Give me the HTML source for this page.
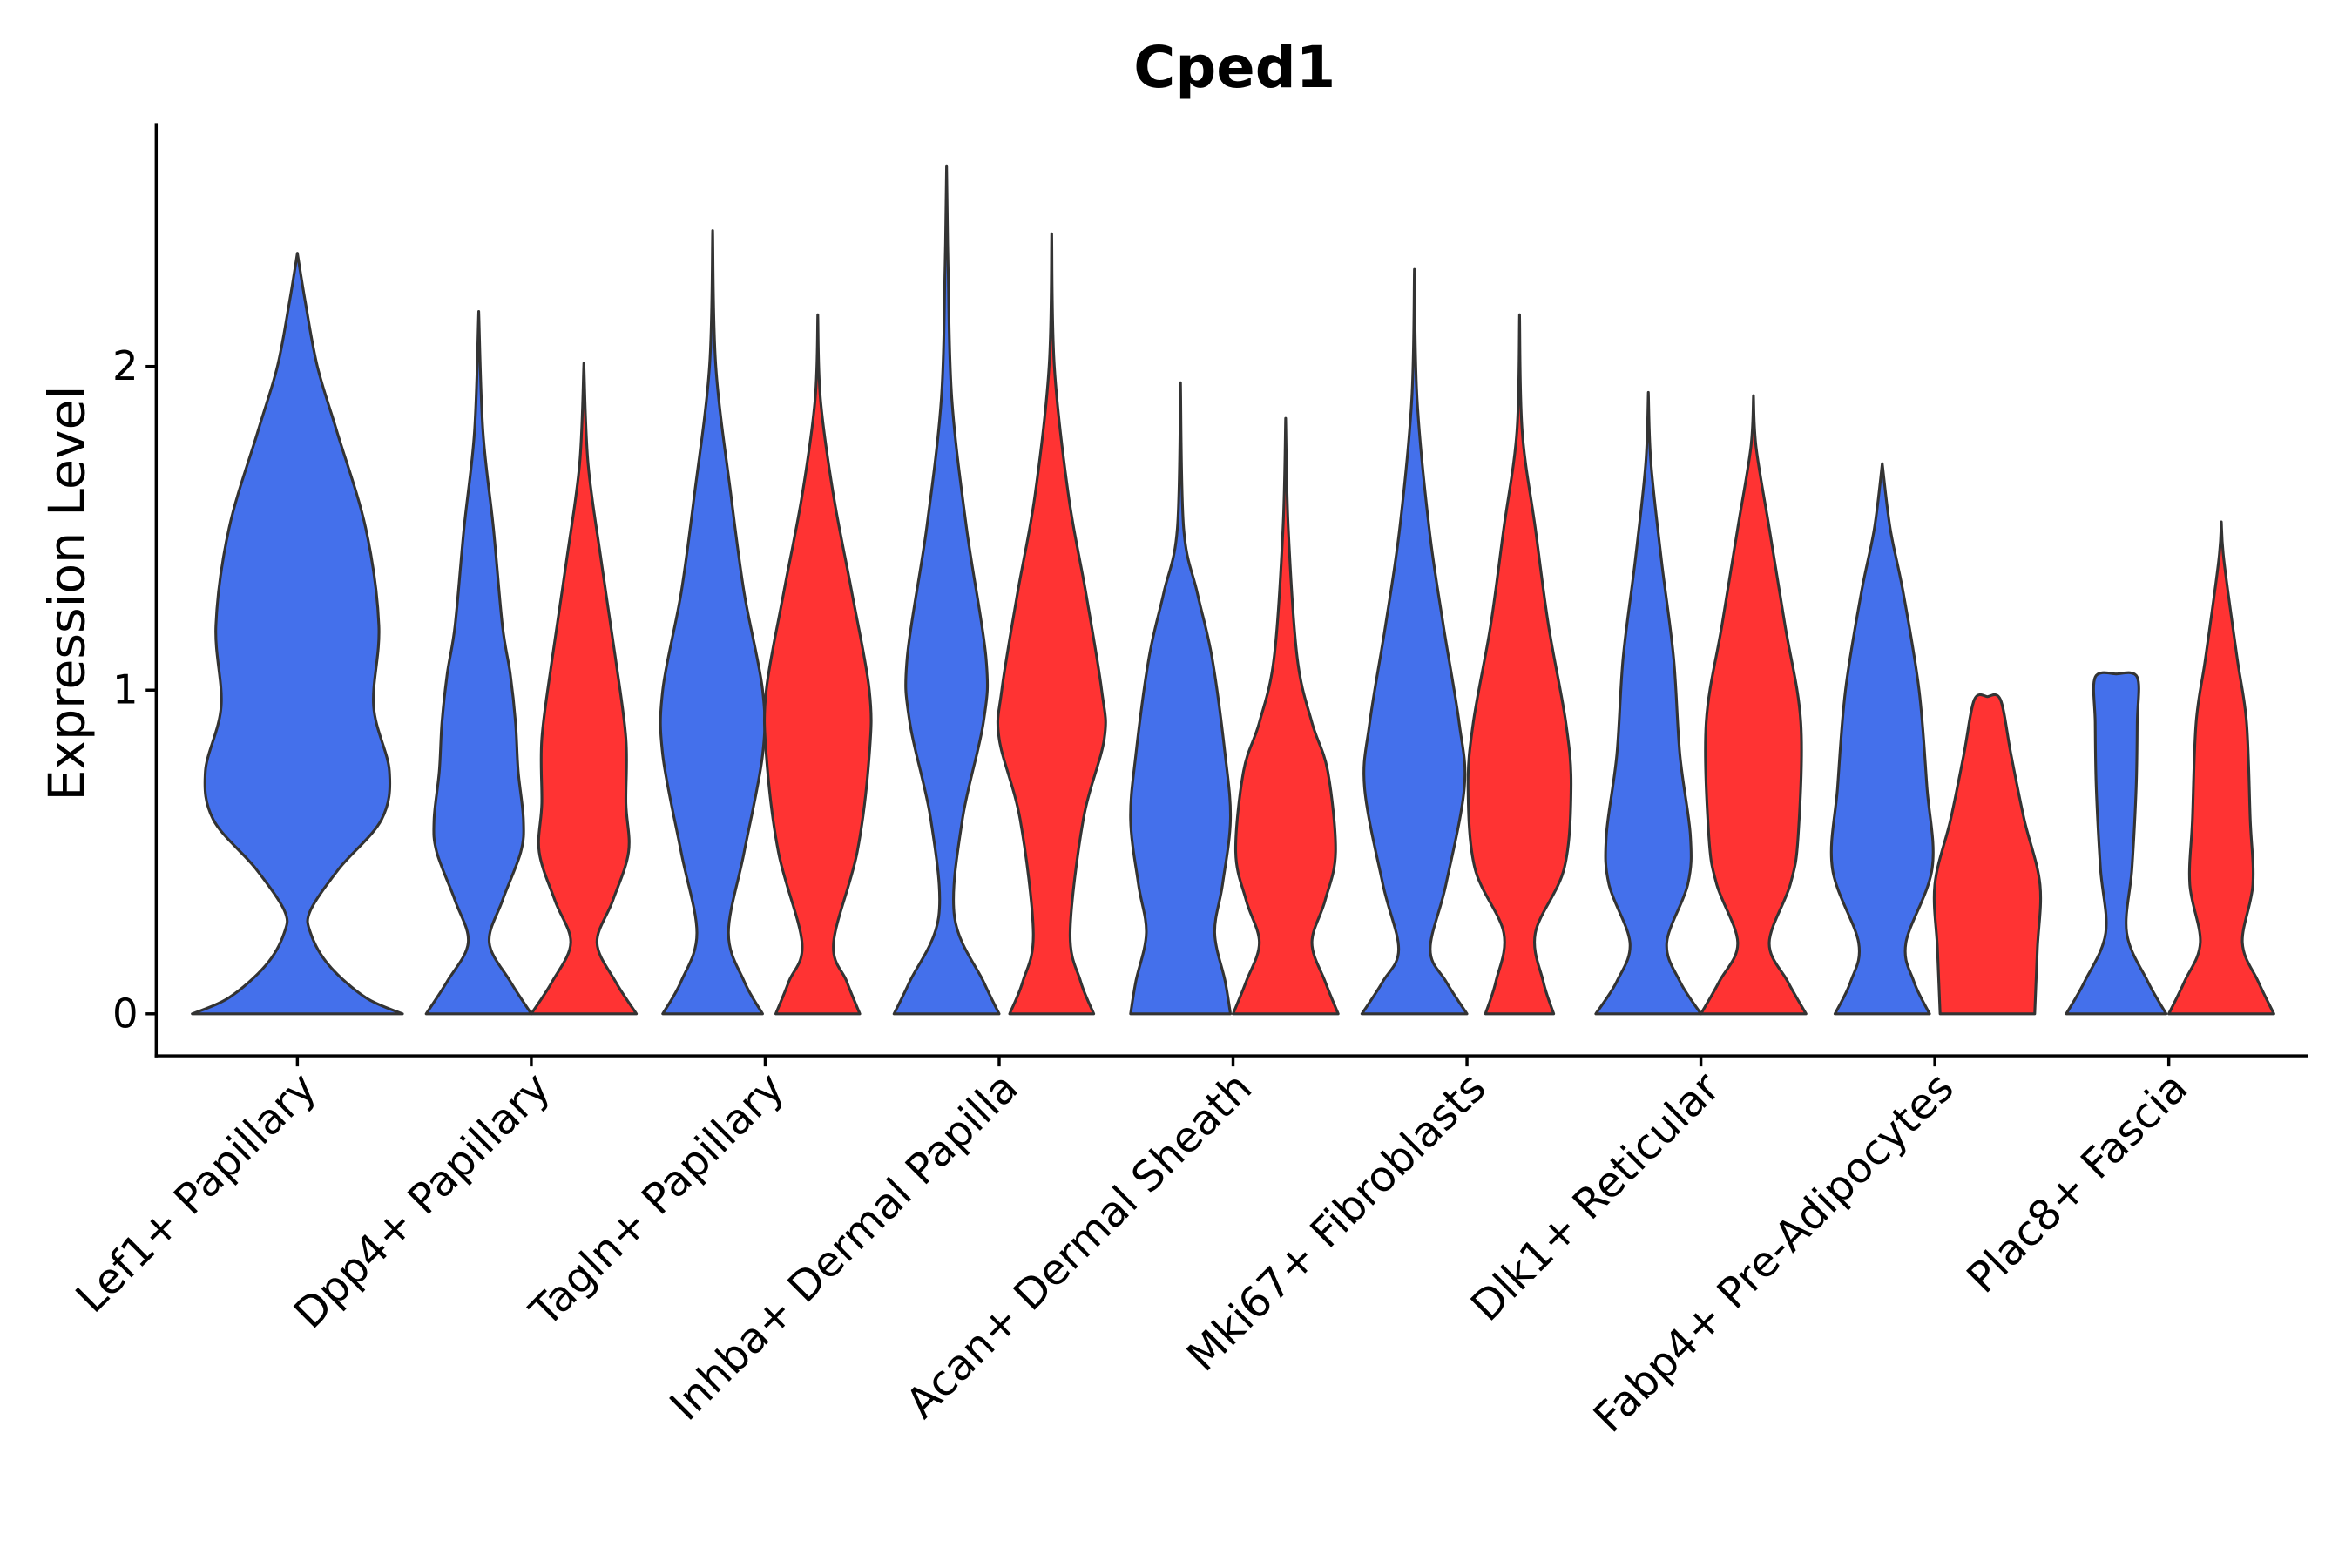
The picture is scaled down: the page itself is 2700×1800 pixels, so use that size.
<!DOCTYPE html>
<html><head><meta charset="utf-8"><style>
html,body{margin:0;padding:0;background:#fff;}
svg{display:block;font-family:"DejaVu Sans","Liberation Sans",sans-serif;}
</style></head><body>
<svg id="chart" width="2700" height="1800" viewBox="0 0 1566 1044" xmlns="http://www.w3.org/2000/svg">
<rect x="0" y="0" width="1566" height="1044" fill="#fff"/>
<text x="822" y="58" text-anchor="middle" font-size="38" font-weight="bold">Cped1</text>
<text transform="translate(56,395) rotate(-90)" text-anchor="middle" font-size="33">Expression Level</text>
<g id="violins"></g>
<g id="axes"></g>
</svg>
<script>
const categories = ["Lef1+ Papillary","Dpp4+ Papillary","Tagln+ Papillary","Inhba+ Dermal Papilla","Acan+ Dermal Sheath","Mki67+ Fibroblasts","Dlk1+ Reticular","Fabp4+ Pre-Adipocytes","Plac8+ Fascia"];
const yTicks = [0,1,2];
// each violin: [expression level, relative half-width]
const blueProfiles = [
 [[0,2.0],[0.05,1.3],[0.15,0.6],[0.25,0.25],[0.32,0.25],[0.45,0.8],[0.6,1.6],[0.75,1.75],[0.95,1.45],[1.2,1.55],[1.5,1.3],[1.8,0.75],[2.0,0.38],[2.2,0.15],[2.35,0]],
 [[0,1.0],[0.1,0.6],[0.22,0.2],[0.35,0.45],[0.5,0.8],[0.6,0.85],[0.75,0.75],[0.9,0.7],[1.05,0.6],[1.2,0.45],[1.5,0.28],[1.8,0.08],[2.17,0]],
 [[0,0.95],[0.1,0.6],[0.25,0.3],[0.5,0.6],[0.8,0.95],[1.0,0.95],[1.3,0.6],[1.6,0.35],[2.0,0.06],[2.42,0]],
 [[0,1.0],[0.1,0.7],[0.3,0.15],[0.6,0.3],[0.9,0.7],[1.1,0.75],[1.5,0.38],[1.9,0.1],[2.3,0.03],[2.62,0]],
 [[0,0.95],[0.1,0.85],[0.25,0.65],[0.4,0.8],[0.6,0.95],[0.8,0.85],[1.1,0.6],[1.3,0.32],[1.5,0.06],[1.95,0]],
 [[0,1.0],[0.1,0.6],[0.2,0.3],[0.4,0.6],[0.7,0.95],[0.9,0.85],[1.2,0.55],[1.5,0.28],[1.9,0.05],[2.3,0]],
 [[0,1.0],[0.1,0.6],[0.22,0.35],[0.4,0.75],[0.55,0.8],[0.8,0.6],[1.1,0.48],[1.4,0.25],[1.7,0.05],[1.92,0]],
 [[0,0.9],[0.1,0.6],[0.22,0.45],[0.45,0.95],[0.7,0.85],[1.0,0.7],[1.3,0.4],[1.5,0.15],[1.7,0]],
 [[0,0.95],[0.1,0.6],[0.25,0.2],[0.45,0.3],[0.7,0.38],[0.9,0.4],[1.04,0.4],[1.05,0]]
];
const redProfiles = [
 null,
 [[0,1.0],[0.1,0.6],[0.22,0.25],[0.35,0.55],[0.5,0.85],[0.65,0.8],[0.85,0.8],[1.1,0.6],[1.4,0.33],[1.7,0.08],[2.01,0]],
 [[0,0.8],[0.1,0.55],[0.22,0.3],[0.5,0.75],[0.8,0.98],[1.0,0.98],[1.3,0.65],[1.6,0.3],[1.9,0.05],[2.16,0]],
 [[0,0.8],[0.1,0.55],[0.25,0.35],[0.6,0.6],[0.85,1.0],[1.0,0.95],[1.3,0.65],[1.6,0.32],[2.0,0.05],[2.41,0]],
 [[0,1.0],[0.1,0.75],[0.22,0.5],[0.35,0.75],[0.5,0.95],[0.75,0.8],[0.9,0.5],[1.1,0.22],[1.5,0.05],[1.84,0]],
 [[0,0.65],[0.1,0.45],[0.25,0.3],[0.45,0.85],[0.7,0.98],[0.9,0.88],[1.2,0.55],[1.5,0.3],[1.8,0.05],[2.16,0]],
 [[0,1.0],[0.1,0.65],[0.22,0.3],[0.4,0.7],[0.55,0.85],[0.9,0.9],[1.2,0.6],[1.5,0.3],[1.75,0.05],[1.91,0]],
 [[0,0.9],[0.2,0.95],[0.4,1.0],[0.6,0.7],[0.8,0.45],[0.97,0.25],[0.98,0]],
 [[0,1.0],[0.1,0.7],[0.22,0.4],[0.4,0.6],[0.6,0.55],[0.9,0.48],[1.1,0.3],[1.4,0.05],[1.52,0]]
];
const NS = "http://www.w3.org/2000/svg";
const plotLeft = 104, plotRight = 1537, plotBottom = 703, plotTop = 82;
function yScale(v){ return 675 - 215.5 * v; }
function xScale(i){ return 198 + 155.75 * i; }
const unitW = 35, splitOff = 35;
function sideCurve(pts, cx, sign){
  const P = pts.map(p=>[cx + sign*p[1]*unitW, yScale(p[0])]);
  let d = "";
  for(let i=0;i<P.length-1;i++){
    const p0=P[Math.max(i-1,0)], p1=P[i], p2=P[i+1], p3=P[Math.min(i+2,P.length-1)];
    const c1=[p1[0]+(p2[0]-p0[0])/6, p1[1]+(p2[1]-p0[1])/6];
    const c2=[p2[0]-(p3[0]-p1[0])/6, p2[1]-(p3[1]-p1[1])/6];
    d += ` C${c1[0].toFixed(2)},${c1[1].toFixed(2)} ${c2[0].toFixed(2)},${c2[1].toFixed(2)} ${p2[0].toFixed(2)},${p2[1].toFixed(2)}`;
  }
  return {start:P[0], d};
}
function violinPath(pts, cx){
  const r = sideCurve(pts, cx, 1);
  const rev = pts.slice().reverse();
  const l = sideCurve(rev, cx, -1);
  return `M${r.start[0]},${r.start[1]}${r.d} L${l.start[0]},${l.start[1]}${l.d} Z`;
}
const vg = document.getElementById('violins');
function addViolin(pts, cx, color, name){
  const p = document.createElementNS(NS,'path');
  p.setAttribute('d', violinPath(pts, cx));
  p.setAttribute('fill', color);
  p.setAttribute('stroke', '#333');
  p.setAttribute('stroke-width', '1.8');
  p.setAttribute('stroke-linejoin', 'round');
  
  
  vg.appendChild(p);
}
categories.forEach((c,i)=>{
  const tx = xScale(i);
  if(redProfiles[i]){
    addViolin(blueProfiles[i], tx - splitOff, '#4470EB', 'violin-blue-' + (i+1));
    addViolin(redProfiles[i], tx + splitOff, '#FF3333', 'violin-red-' + (i+1));
  } else {
    addViolin(blueProfiles[i], tx, '#4470EB', 'violin-blue-' + (i+1));
  }
});
const ag = document.getElementById('axes');
function line(x1,y1,x2,y2,name){
  const l = document.createElementNS(NS,'line');
  l.setAttribute('x1',x1);l.setAttribute('y1',y1);l.setAttribute('x2',x2);l.setAttribute('y2',y2);
  l.setAttribute('stroke','#000');l.setAttribute('stroke-width','2');
  
  
  ag.appendChild(l);
}
line(plotLeft, plotTop, plotLeft, plotBottom+1, 'y-axis-line');
line(plotLeft-1, plotBottom, plotRight, plotBottom, 'x-axis-line');
yTicks.forEach(v=>{
  const y = yScale(v);
  line(plotLeft-7, y, plotLeft, y, 'y-tick');
  const t = document.createElementNS(NS,'text');
  t.setAttribute('x', plotLeft-12); t.setAttribute('y', y+9);
  t.setAttribute('text-anchor','end'); t.setAttribute('font-size','27');
  t.textContent = v;
  
  
  ag.appendChild(t);
});
categories.forEach((c,i)=>{
  const x = xScale(i);
  line(x, plotBottom, x, plotBottom+7, 'x-tick');
  const t = document.createElementNS(NS,'text');
  t.setAttribute('transform', `translate(${x+14},${plotBottom+23}) rotate(-45)`);
  t.setAttribute('text-anchor','end'); t.setAttribute('font-size','28');
  t.textContent = c;
  
  
  ag.appendChild(t);
});
</script>
</body></html>
